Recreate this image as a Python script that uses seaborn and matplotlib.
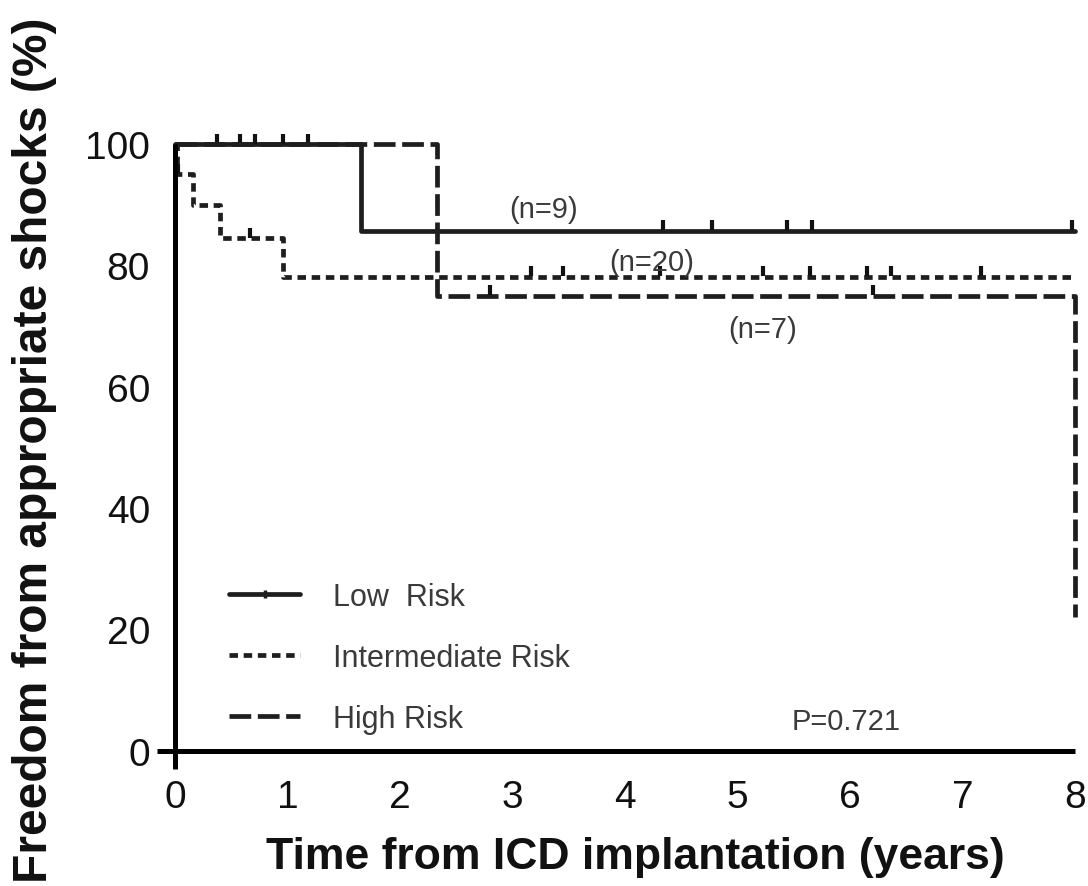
import matplotlib
matplotlib.use("Agg")
import matplotlib.pyplot as plt
from matplotlib.lines import Line2D
import seaborn as sns
import pandas as pd

# ---- data ----
low_t = [0.0, 1.65, 8.0]
low_s = [100.0, 85.7, 85.7]
low_cens_t = [0.37, 0.58, 0.71, 0.96, 1.18, 4.34, 4.77, 5.44, 5.66, 7.97]
low_cens_s = [100, 100, 100, 100, 100, 85.7, 85.7, 85.7, 85.7, 85.7]

int_t = [0.0, 0.02, 0.16, 0.40, 0.96, 8.0]
int_s = [100.0, 95.0, 90.0, 84.5, 78.1, 78.1]
int_cens_t = [0.03, 0.67, 3.16, 3.45, 4.31, 5.23, 5.64, 6.15, 6.36, 7.16]
int_cens_s = [95.0, 84.5, 78.1, 78.1, 78.1, 78.1, 78.1, 78.1, 78.1, 78.1]

high_t = [0.0, 2.33, 8.0, 8.0]
high_s = [100.0, 75.0, 75.0, 22.0]
high_cens_t = [2.8, 6.2]
high_cens_s = [75.0, 75.0]

group_labels = ["Low  Risk", "Intermediate Risk", "High Risk"]
n_labels = ["(n=9)", "(n=20)", "(n=7)"]
n_pos_t = [3.28, 4.24, 5.22]
n_pos_s = [89.3, 80.5, 69.5]
p_text = "P=0.721"

x_ticks = [0, 1, 2, 3, 4, 5, 6, 7, 8]
y_ticks = [0, 20, 40, 60, 80, 100]

# ---- style ----
sns.set_theme(style="white")
plt.rcParams["font.family"] = ["Liberation Sans", "DejaVu Sans"]

fig = plt.figure(figsize=(10.88, 8.87), dpi=100)
ax = fig.add_axes([157/1088, 1-770/887, 918/1088, 625/887])

line_col = "#1e1e1e"
lw = 3.4
styles = [
    (low_t, low_s, low_cens_t, low_cens_s, "-"),
    (int_t, int_s, int_cens_t, int_cens_s, (0, (1.8, 1.2))),
    (high_t, high_s, high_cens_t, high_cens_s, (0, (4.6, 1.4))),
]

for (t, s, ct, cs, ls), lab in zip(styles, group_labels):
    df = pd.DataFrame({"t": t, "s": s})
    sns.lineplot(data=df, x="t", y="s", ax=ax, drawstyle="steps-post",
                 estimator=None, sort=False, color=line_col, linewidth=lw,
                 linestyle=ls, clip_on=False)
    cdf = pd.DataFrame({"t": ct, "s": [v + 0.9 for v in cs]})
    ax.plot(cdf["t"], cdf["s"], linestyle="none", marker="|", markersize=7,
            markeredgewidth=3, color="#111111", clip_on=False)

ax.set_xlim(-0.16, 8.0)
ax.set_ylim(-3, 100)
ax.set_xticks(x_ticks)
ax.set_yticks(y_ticks)
ax.set_xticklabels([str(v) for v in x_ticks])
ax.set_yticklabels([str(v) for v in y_ticks])

for side in ["top", "right"]:
    ax.spines[side].set_visible(False)
ax.spines["left"].set_position(("data", 0))
ax.spines["bottom"].set_position(("data", 0))
for side in ["left", "bottom"]:
    ax.spines[side].set_linewidth(3.6)
    ax.spines[side].set_color("#000000")
    ax.spines[side].set_capstyle("butt")

ax.tick_params(axis="both", direction="out", length=11, width=2.6,
               color="#000000", labelsize=28, labelcolor="#111111")
ax.tick_params(axis="y", pad=7)
ax.tick_params(axis="x", pad=9)
ax.set_xlabel("")
ax.set_ylabel("")

# annotations
ann_col = "#3a3a3a"
for txt, tx, ty in zip(n_labels, n_pos_t, n_pos_s):
    ax.text(tx, ty, txt, ha="center", va="center", fontsize=21, color=ann_col)
ax.text(5.97, 4.9, p_text, ha="center", va="center", fontsize=21, color=ann_col)

# legend
handles = [
    Line2D([], [], color=line_col, lw=lw, linestyle="-", marker="|",
           markersize=6, markeredgewidth=2.5),
    Line2D([], [], color=line_col, lw=lw, linestyle=(0, (1.8, 1.2))),
    Line2D([], [], color=line_col, lw=lw, linestyle=(0, (4.6, 1.4))),
]
leg = ax.legend(handles, group_labels, loc="upper left",
                bbox_to_anchor=(0.078, 0.300), frameon=False, fontsize=22,
                handlelength=2.35, handletextpad=1.08, labelspacing=1.02,
                numpoints=1, borderaxespad=0, borderpad=0)
for t in leg.get_texts():
    t.set_color(ann_col)

fig.text(635/1088, 1-858/887, "Time from ICD implantation (years)",
         ha="center", va="center", fontsize=32, fontweight="bold", color="#111111")
fig.text(35/1088, 1-450/887, "Freedom from appropriate shocks (%)",
         ha="center", va="center", rotation=90, fontsize=34.5,
         fontweight="bold", color="#111111")

fig.savefig("out.png", dpi=100)
